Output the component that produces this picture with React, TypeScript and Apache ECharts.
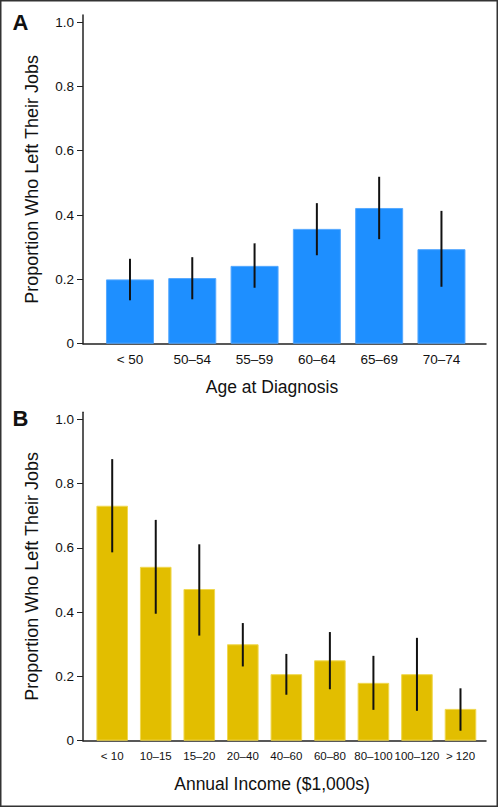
import React, { useEffect, useRef } from "react";
import * as echarts from "echarts";

const ageCategories = ["< 50", "50\u201354", "55\u201359", "60\u201364", "65\u201369", "70\u201374"];
const ageValues = [0.2, 0.204, 0.242, 0.357, 0.422, 0.294];
const ageLower = [0.135, 0.138, 0.174, 0.275, 0.325, 0.177];
const ageUpper = [0.264, 0.269, 0.312, 0.437, 0.519, 0.413];

const incomeCategories = ["< 10", "10\u201315", "15\u201320", "20\u201340", "40\u201360", "60\u201380", "80\u2013100", "100\u2013120", "> 120"];
const incomeValues = [0.731, 0.541, 0.472, 0.3, 0.207, 0.25, 0.18, 0.207, 0.099];
const incomeLower = [0.586, 0.395, 0.327, 0.231, 0.143, 0.16, 0.096, 0.093, 0.031];
const incomeUpper = [0.876, 0.687, 0.611, 0.366, 0.27, 0.338, 0.264, 0.32, 0.163];

const yTicks = [0, 0.2, 0.4, 0.6, 0.8, 1.0];

const FONT = '"Liberation Sans", Arial, sans-serif';

export default function App() {
  const ref = useRef<HTMLDivElement>(null);
  useEffect(() => {
    document.body.style.margin = "0";
    const chart = echarts.init(ref.current!, null, { renderer: "svg" });
    const yAxisBase = (gridIndex: number) => ({
      type: "value",
      gridIndex,
      min: 0,
      max: 1.022,
      name: "Proportion Who Left Their Jobs",
      nameLocation: "middle",
      nameGap: 42,
      nameTextStyle: { fontFamily: FONT, fontSize: 18, color: "#111" },
      axisLine: { show: true, onZero: false, lineStyle: { color: "#222", width: 1.5 } },
      axisTick: { show: true, length: 6, customValues: yTicks, lineStyle: { color: "#222", width: 1 } },
      axisLabel: {
        customValues: yTicks,
        margin: 9,
        fontFamily: FONT,
        fontSize: 13.5,
        color: "#111",
        formatter: (v: number) => (v === 0 ? "0" : v.toFixed(1)),
      },
      splitLine: { show: false },
    });
    const xAxisBase = (gridIndex: number, cats: string[], min: number, max: number, name: string, labelSize: number) => ({
      type: "value",
      gridIndex,
      min,
      max,
      name,
      nameLocation: "middle",
      nameGap: 34,
      nameTextStyle: { fontFamily: FONT, fontSize: 17.5, color: "#111", padding: [0, 25, 0, 0] },
      axisLine: { show: true, onZero: false, lineStyle: { color: "#222", width: 1.5 } },
      axisTick: { show: false },
      axisLabel: {
        customValues: cats.map((_, i) => i),
        margin: 9,
        fontFamily: FONT,
        fontSize: labelSize,
        color: "#111",
        formatter: (v: number) => cats[Math.round(v)] ?? "",
      },
      splitLine: { show: false },
    });
    const errSeries = (idx: number, lower: number[], upper: number[]) => ({
      type: "custom",
      xAxisIndex: idx,
      yAxisIndex: idx,
      z: 5,
      data: lower.map((l, i) => [i, l, upper[i]]),
      renderItem: (params: any, api: any) => {
        const p1 = api.coord([api.value(0), api.value(1)]);
        const p2 = api.coord([api.value(0), api.value(2)]);
        return {
          type: "line",
          shape: { x1: p1[0], y1: p1[1], x2: p2[0], y2: p2[1] },
          style: { stroke: "#111", lineWidth: 2 },
        };
      },
    });
    chart.setOption({
      animation: false,
      backgroundColor: "#fff",
      grid: [
        { left: 83, top: 15, width: 403, height: 328.7 },
        { left: 83, top: 412.2, width: 403, height: 328.5 },
      ],
      xAxis: [
        xAxisBase(0, ageCategories, -0.754, 5.715, "Age at Diagnosis", 13.5),
        xAxisBase(1, incomeCategories, -0.671, 8.586, "Annual Income ($1,000s)", 11.5),
      ],
      yAxis: [yAxisBase(0), yAxisBase(1)],
      series: [
        {
          type: "bar",
          xAxisIndex: 0,
          yAxisIndex: 0,
          barWidth: 48,
          data: ageValues.map((v, i) => [i, v]),
          itemStyle: { color: "#1E8FFF", borderColor: "#55A8FF", borderWidth: 1 },
        },
        errSeries(0, ageLower, ageUpper),
        {
          type: "bar",
          xAxisIndex: 1,
          yAxisIndex: 1,
          barWidth: 31.6,
          data: incomeValues.map((v, i) => [i, v]),
          itemStyle: { color: "#E2BE00", borderColor: "#F0D850", borderWidth: 1 },
        },
        errSeries(1, incomeLower, incomeUpper),
      ],
      graphic: [
        {
          type: "rect",
          shape: { x: 0.75, y: 0.75, width: 496.5, height: 805.5 },
          style: { fill: "none", stroke: "#333", lineWidth: 1.5 },
          silent: true,
        },
        {
          type: "text",
          x: 12.5,
          y: 22,
          style: { text: "A", fontFamily: FONT, fontWeight: "bold", fontSize: 22, fill: "#111", verticalAlign: "middle" },
        },
        {
          type: "text",
          x: 12.5,
          y: 418,
          style: { text: "B", fontFamily: FONT, fontWeight: "bold", fontSize: 22, fill: "#111", verticalAlign: "middle" },
        },
      ],
    });
    return () => chart.dispose();
  }, []);
  return <div ref={ref} style={{ position: "absolute", left: 0, top: 0, width: 500, height: 808 }} />;
}
